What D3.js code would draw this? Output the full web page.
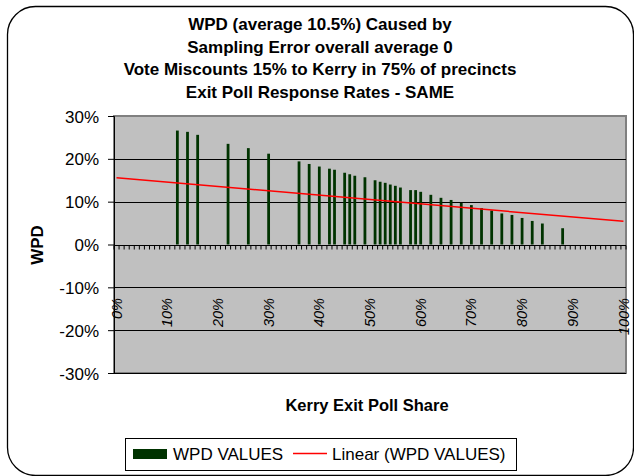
<!DOCTYPE html>
<html>
<head>
<meta charset="utf-8">
<script src="https://cdn.jsdelivr.net/npm/d3@7/dist/d3.min.js"></script>
<style>
  html, body { margin: 0; padding: 0; background: #ffffff; }
  svg { display: block; }
  text { font-family: "Liberation Sans", Arial, Helvetica, sans-serif; fill: #000; }
</style>
</head>
<body>
<script>
// ---------- data ----------
const titleLines = [
  "WPD (average 10.5%) Caused by",
  "Sampling Error overall average 0",
  "Vote Miscounts 15% to Kerry in 75% of precincts",
  "Exit Poll Response Rates - SAME"
];
const barShare = [12,14,16,22,26,30,36,38,40,42,43,45,46,47,49,51,52,53,54,55,56,58,59,60,62,64,66,68,70,72,74,76,78,80,82,84,88];
const wpdValues = [26.6,26.3,25.6,23.5,22.5,21.2,19.4,18.8,18.2,17.7,17.45,16.75,16.4,16.05,15.7,15.0,14.65,14.4,14.0,13.7,13.3,12.7,12.7,12.3,11.6,10.9,10.4,9.7,9.2,8.5,7.95,7.25,6.9,6.2,5.5,4.9,3.8];
const trendShare = [0, 100];
const trendValues = [15.6, 5.4];
const yTicks = [-30,-20,-10,0,10,20,30];
const xTickShare = [0,10,20,30,40,50,60,70,80,90,100];
const xTickLabels = ["0%","10%","20%","30%","40%","50%","60%","70%","80%","90%","100%"];
const seriesName = "WPD VALUES";
const trendName = "Linear (WPD VALUES)";
const xTitle = "Kerry Exit Poll Share";
const yTitle = "WPD";

// ---------- layout ----------
const W = 634, H = 476;
const L = 114, R = 626, T = 116, B = 373;

const svg = d3.select("body").append("svg").attr("width", W).attr("height", H);

// outer chart border
svg.append("rect").attr("x", 7.5).attr("y", 6.5).attr("width", 626).attr("height", 469)
  .attr("rx", 28).attr("ry", 28).attr("fill", "#fff").attr("stroke", "#000").attr("stroke-width", 1.3);

// title
svg.append("g").selectAll("text").data(titleLines).join("text")
  .attr("x", 320).attr("y", (d, i) => [30, 52.7, 75.3, 97.7][i])
  .attr("text-anchor", "middle").attr("font-weight", "bold").attr("font-size", "17px")
  .text(d => d);

// scales
const x = d3.scaleBand().domain(d3.range(0, 101)).range([L, R]).paddingInner(0.45).paddingOuter(0.225);
const y = d3.scaleLinear().domain([-30, 30]).range([B, T]);
const cx = v => x(v) + x.bandwidth() / 2;

// plot background
svg.append("rect").attr("x", L).attr("y", T).attr("width", R - L).attr("height", B - T)
  .attr("fill", "#c0c0c0").attr("stroke", "#808080").attr("stroke-width", 2);

// gridlines
svg.append("g").selectAll("line").data(yTicks.filter(d => d !== 30 && d !== 0)).join("line")
  .attr("x1", L).attr("x2", R).attr("y1", d => Math.round(y(d)) + 0.5).attr("y2", d => Math.round(y(d)) + 0.5)
  .attr("stroke", "#000").attr("stroke-width", 1);

// y axis
const yAxis = svg.append("g").attr("transform", `translate(${L},0)`)
  .call(d3.axisLeft(y).tickValues(yTicks).tickFormat(d => d + "%").tickSize(6).tickPadding(9));
yAxis.select(".domain").attr("stroke", "#000");
yAxis.selectAll(".tick line").attr("stroke", "#000");
yAxis.selectAll(".tick text").attr("font-size", "17px").attr("font-family", "Liberation Sans, Arial, sans-serif")
  .attr("dy", "0.36em").attr("fill", "#000");

// x tick labels (rotated, italic)
svg.append("g").selectAll("text").data(xTickShare).join("text")
  .attr("transform", d => `translate(${cx(d)},298) rotate(-90)`)
  .attr("dy", "0.35em").attr("text-anchor", "end")
  .attr("font-size", "14.5px").attr("font-style", "italic")
  .text((d, i) => xTickLabels[i]);

// bars
svg.append("g").selectAll("rect").data(barShare).join("rect")
  .attr("x", d => x(d)).attr("width", x.bandwidth())
  .attr("y", (d, i) => y(wpdValues[i])).attr("height", (d, i) => y(0) - y(wpdValues[i]))
  .attr("fill", "#003300");

// category axis at 0
const y0 = Math.round(y(0)) + 0.5;
svg.append("line").attr("x1", L).attr("x2", R).attr("y1", y0).attr("y2", y0).attr("stroke", "#000");
svg.append("g").selectAll("line").data(d3.range(0, 102)).join("line")
  .attr("x1", k => L + k * x.step()).attr("x2", k => L + k * x.step())
  .attr("y1", y0).attr("y2", y0 + 4).attr("stroke", "#000");

// trendline
const line = d3.line().x(d => cx(d[0])).y(d => y(d[1]));
svg.append("path").datum(trendShare.map((s, i) => [s, trendValues[i]]))
  .attr("d", line).attr("fill", "none").attr("stroke", "#ff0000").attr("stroke-width", 1.5);

// axis titles
svg.append("text").attr("x", 367).attr("y", 410.7).attr("text-anchor", "middle")
  .attr("font-weight", "bold").attr("font-size", "16.5px").text(xTitle);
svg.append("text").attr("transform", "translate(43,245) rotate(-90)").attr("text-anchor", "middle")
  .attr("font-weight", "bold").attr("font-size", "17px").text(yTitle);

// legend
const lg = svg.append("g");
lg.append("rect").attr("x", 125.5).attr("y", 438.5).attr("width", 391).attr("height", 32)
  .attr("fill", "#fff").attr("stroke", "#000").attr("stroke-width", 1);
lg.append("rect").attr("x", 133).attr("y", 449).attr("width", 34).attr("height", 10).attr("fill", "#003300");
lg.append("text").attr("x", 173).attr("y", 459.5).attr("font-size", "17px").text(seriesName);
lg.append("line").attr("x1", 293).attr("x2", 327).attr("y1", 453.5).attr("y2", 453.5)
  .attr("stroke", "#ff0000").attr("stroke-width", 1.5);
lg.append("text").attr("x", 332).attr("y", 459.5).attr("font-size", "17px").text(trendName);
</script>
</body>
</html>
